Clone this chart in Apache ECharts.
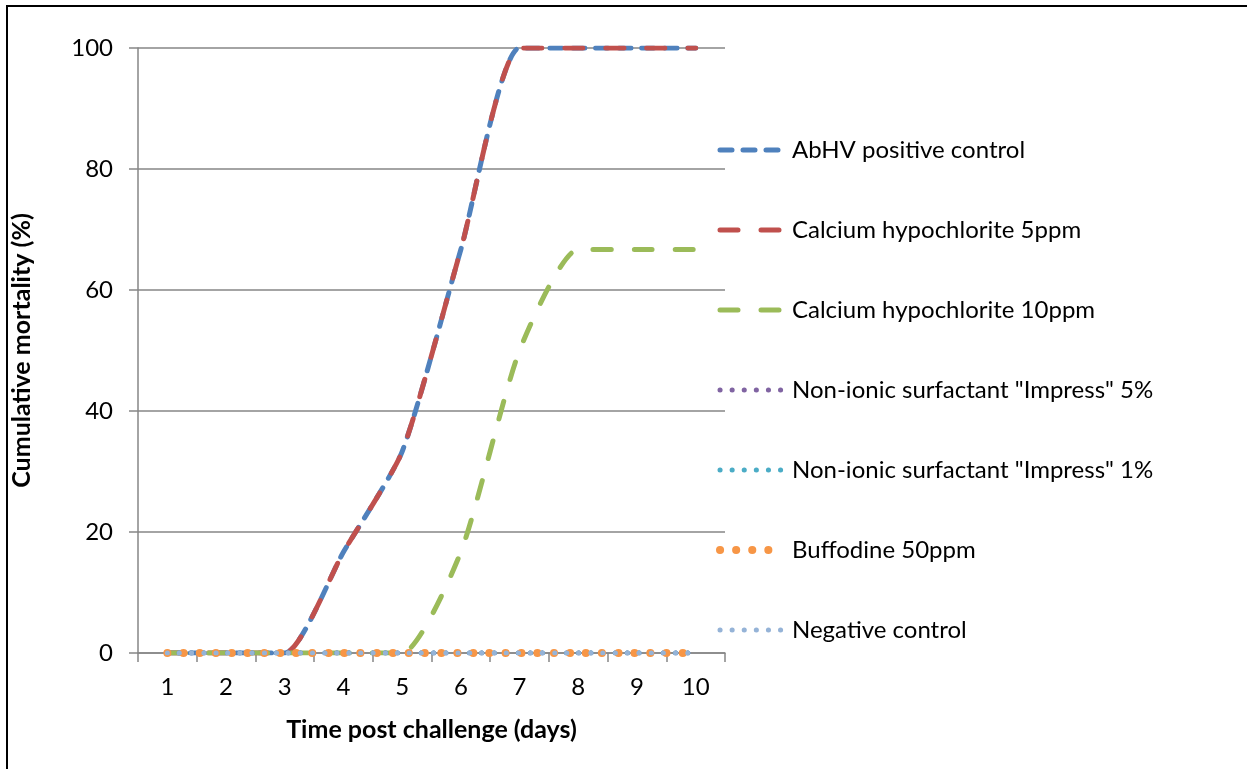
<!DOCTYPE html>
<html>
<head>
<meta charset="utf-8">
<script src="https://cdn.jsdelivr.net/npm/echarts@6/dist/echarts.min.js"></script>
<style>
  html, body { margin: 0; padding: 0; background: #fff; }
  #chart { width: 1247px; height: 769px; }
</style>
</head>
<body>
<div id="chart"></div>
<script>
var days = ['1', '2', '3', '4', '5', '6', '7', '8', '9', '10'];

var abhvPositive = [0, 0, 0, 16.7, 33.3, 66.7, 100, 100, 100, 100];
var calcium5 = [0, 0, 0, 16.7, 33.3, 66.7, 100, 100, 100, 100];
var calcium10 = [0, 0, 0, 0, 0, 16.7, 50, 66.7, 66.7, 66.7];
var impress5 = [0, 0, 0, 0, 0, 0, 0, 0, 0, 0];
var impress1 = [0, 0, 0, 0, 0, 0, 0, 0, 0, 0];
var buffodine50 = [0, 0, 0, 0, 0, 0, 0, 0, 0, 0];
var negative = [0, 0, 0, 0, 0, 0, 0, 0, 0, 0];

var yTicks = [0, 20, 40, 60, 80, 100];

var font = 'Lato, "Open Sans", sans-serif';

function lineSeries(name, data, color, width, dash) {
  return {
    name: name,
    type: 'line',
    data: data,
    smooth: 0.2,
    showSymbol: false,
    symbol: 'none',
    color: color,
    lineStyle: { color: color, width: width, type: dash, cap: 'round' }
  };
}

var chart = echarts.init(document.getElementById('chart'));

var option = {
  backgroundColor: '#fff',
  animation: false,
  textStyle: { fontFamily: font },
  graphic: [{
    type: 'rect',
    shape: { x: 7, y: 6, width: 1300, height: 820 },
    style: { fill: 'none', stroke: '#000', lineWidth: 2 },
    silent: true
  }],
  grid: { left: 138, top: 48, width: 587, height: 605 },
  legend: {
    orient: 'vertical',
    left: 711,
    top: 133,
    itemWidth: 64,
    itemHeight: 10,
    itemGap: 56,
    itemStyle: { opacity: 0 },
    lineStyle: { width: 'inherit' },
    textStyle: { fontFamily: font, fontSize: 24, lineHeight: 24, color: '#000', padding: [0, 0, 0, 3] },
    data: [
      'AbHV positive control',
      'Calcium hypochlorite 5ppm',
      'Calcium hypochlorite 10ppm',
      'Non-ionic surfactant "Impress" 5%',
      'Non-ionic surfactant "Impress" 1%',
      'Buffodine 50ppm',
      'Negative control'
    ]
  },
  xAxis: {
    type: 'category',
    data: days,
    boundaryGap: true,
    name: 'Time post challenge (days)',
    nameLocation: 'middle',
    nameGap: 64,
    nameTextStyle: { fontFamily: font, fontSize: 25, fontWeight: 'bold', color: '#000' },
    axisLine: { lineStyle: { color: '#868686', width: 1.5 } },
    axisTick: { show: true, inside: false, length: 9, alignWithLabel: false, lineStyle: { color: '#868686', width: 1.5 } },
    axisLabel: { fontFamily: font, fontSize: 24, color: '#000', margin: 22 },
    splitLine: { show: false }
  },
  yAxis: {
    type: 'value',
    min: yTicks[0],
    max: yTicks[yTicks.length - 1],
    interval: 20,
    name: 'Cumulative mortality (%)',
    nameLocation: 'middle',
    nameGap: 104,
    nameTextStyle: { fontFamily: font, fontSize: 25, fontWeight: 'bold', color: '#000' },
    axisLine: { show: true, lineStyle: { color: '#868686', width: 1.5 } },
    axisTick: { show: true, length: 9, lineStyle: { color: '#868686', width: 1.5 } },
    axisLabel: { fontFamily: font, fontSize: 24, color: '#000', margin: 25 },
    splitLine: { show: true, lineStyle: { color: '#868686', width: 1.5 } }
  },
  series: [
    lineSeries('AbHV positive control', abhvPositive, '#4F81BD', 5, [12, 11]),
    lineSeries('Calcium hypochlorite 5ppm', calcium5, '#C0504D', 5, [18, 23]),
    lineSeries('Calcium hypochlorite 10ppm', calcium10, '#9BBB59', 5, [18, 23]),
    lineSeries('Non-ionic surfactant "Impress" 5%', impress5, '#8064A2', 5, [0.1, 12]),
    lineSeries('Non-ionic surfactant "Impress" 1%', impress1, '#4BACC6', 5, [0.1, 12]),
    lineSeries('Buffodine 50ppm', buffodine50, '#F79646', 8, [0.1, 16]),
    lineSeries('Negative control', negative, '#95B3D7', 5, [0.1, 12])
  ]
};

chart.setOption(option);
</script>
</body>
</html>
